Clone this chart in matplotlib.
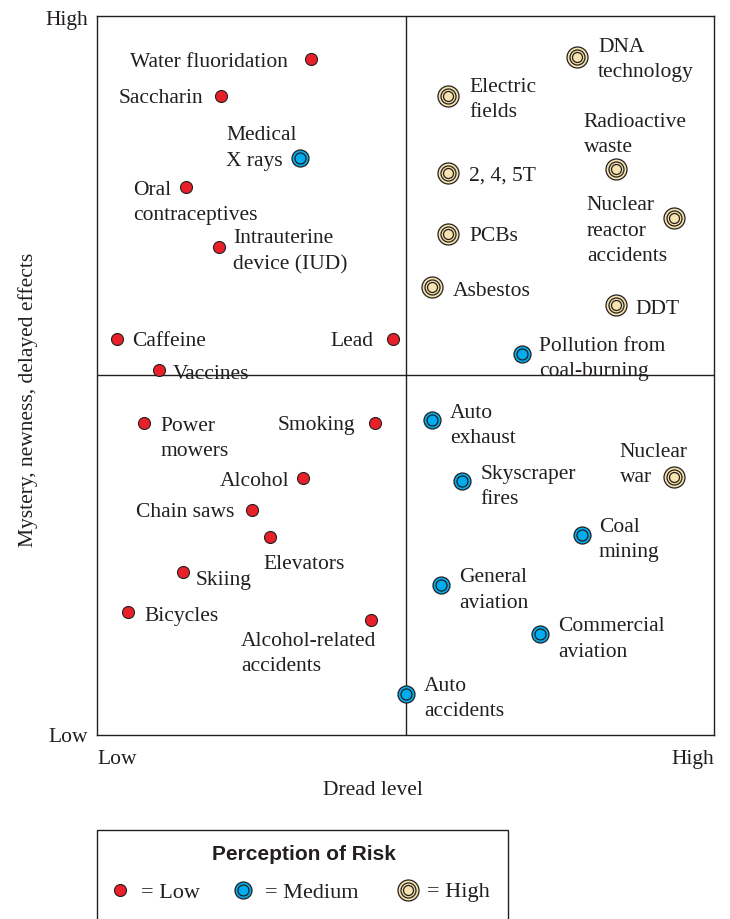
import matplotlib
matplotlib.use("Agg")
import matplotlib.pyplot as plt
from matplotlib.patches import Rectangle

# ---------------- data (dread level 0-10, mystery 0-10) ----------------
low_names = ["Water fluoridation", "Saccharin", "Oral\ncontraceptives",
             "Intrauterine\ndevice (IUD)", "Caffeine", "Vaccines", "Lead",
             "Power\nmowers", "Smoking", "Alcohol", "Chain saws", "Elevators",
             "Skiing", "Bicycles", "Alcohol-related\naccidents"]
low_dread = [3.47, 2.01, 1.44, 1.98, 0.32, 1.00, 4.80, 0.76, 4.51, 3.34,
             2.51, 2.80, 1.39, 0.50, 4.44]
low_mystery = [9.40, 8.89, 7.62, 6.79, 5.51, 5.08, 5.51, 4.34, 4.34, 3.57,
               3.13, 2.75, 2.27, 1.71, 1.60]

med_names = ["Medical\nX rays", "Pollution from\ncoal-burning", "Auto\nexhaust",
             "Skyscraper\nfires", "Coal\nmining", "General\naviation",
             "Commercial\naviation", "Auto\naccidents"]
med_dread = [3.29, 6.89, 5.43, 5.92, 7.86, 5.58, 7.18, 5.01]
med_mystery = [8.03, 5.30, 4.38, 3.53, 2.78, 2.09, 1.40, 0.57]

high_names = ["DNA\ntechnology", "Electric\nfields", "Radioactive\nwaste",
              "2, 4, 5T", "Nuclear\nreactor\naccidents", "PCBs", "Asbestos",
              "DDT", "Nuclear\nwar"]
high_dread = [7.78, 5.69, 8.41, 5.69, 9.35, 5.69, 5.43, 8.41, 9.35]
high_mystery = [9.43, 8.89, 7.87, 7.82, 7.19, 6.97, 6.23, 5.98, 3.59]

axis_ticks = ["Low", "High"]
x_title = "Dread level"
y_title = "Mystery, newness, delayed effects"
legend_title = "Perception of Risk"
legend_labels = ["= Low", "= Medium", "= High"]

# ---------------- label placement (pixel offsets from marker, ha) ----------------
low_offsets = [(-23, 0, "right"), (-18, 0, "right"), (-53, 13, "left"),
               (14, 2, "left"), (15, 0, "left"), (14, 2, "left"),
               (-20, 0, "right"), (17, 13, "left"), (-20, 0, "right"),
               (-14, 0, "right"), (-17, 0, "right"), (-6, 24, "left"),
               (13, 6, "left"), (17, 1, "left"), (-130, 31, "left")]
med_offsets = [(-74, -12, "left"), (17, 2, "left"), (18, 3, "left"),
               (18, 3, "left"), (17, 2, "left"), (18, 3, "left"),
               (18, 2, "left"), (18, 2, "left")]
high_offsets = [(21, 0, "left"), (21, 1, "left"), (-32, -37, "left"),
                (21, 0, "left"), (-87, 10, "left"), (21, 0, "left"),
                (21, 1, "left"), (20, 1, "left"), (-54, -15, "left")]

# ---------------- styles ----------------
DARK = "#231f20"
RED = "#e8202a"
BLUE = "#00aeef"
TAN = "#f7e3ae"
SERIF = ["Liberation Serif", "DejaVu Serif"]
FS = 15.5
W, H = 730, 919
PX = 0.72  # points per pixel at dpi=100
VSHIFT = 3  # px, optical centring of text on markers

plt.rcParams["font.family"] = SERIF
fig = plt.figure(figsize=(W / 100, H / 100), dpi=100)
ax = fig.add_axes([97 / W, 1 - 735 / H, (714 - 97) / W, (735 - 16) / H])
ax.set_xlim(0, 10)
ax.set_ylim(0, 10)
ax.set_xticks([])
ax.set_yticks([])
for s in ax.spines.values():
    s.set_color(DARK)
    s.set_linewidth(1.0)
ax.axvline(5, color=DARK, lw=1.0, zorder=1)
ax.axhline(5, color=DARK, lw=1.0, zorder=1)


def draw_low(a, x, y, **kw):
    a.plot(x, y, "o", ms=12 * PX, mfc=RED, mec=DARK, mew=0.8, ls="none", zorder=3, **kw)


def draw_med(a, x, y, **kw):
    a.plot(x, y, "o", ms=17 * PX, mfc=BLUE, mec=DARK, mew=0.9, ls="none", zorder=3, **kw)
    a.plot(x, y, "o", ms=11 * PX, mfc=BLUE, mec=DARK, mew=0.9, ls="none", zorder=4, **kw)


def draw_high(a, x, y, **kw):
    a.plot(x, y, "o", ms=21 * PX, mfc=TAN, mec=DARK, mew=0.9, ls="none", zorder=3, **kw)
    a.plot(x, y, "o", ms=15 * PX, mfc=TAN, mec=DARK, mew=0.9, ls="none", zorder=4, **kw)
    a.plot(x, y, "o", ms=10 * PX, mfc=TAN, mec=DARK, mew=0.9, ls="none", zorder=5, **kw)


draw_low(ax, low_dread, low_mystery)
draw_med(ax, med_dread, med_mystery)
draw_high(ax, high_dread, high_mystery)


def labels(names, xs, ys, offs):
    for n, x, y, (dx, dy, ha) in zip(names, xs, ys, offs):
        ax.annotate(n, (x, y), xytext=(dx * PX, -(dy + VSHIFT) * PX),
                    textcoords="offset points",
                    ha=ha, va="center", fontsize=FS, color=DARK,
                    multialignment="left", linespacing=1.47, zorder=6)


labels(low_names, low_dread, low_mystery, low_offsets)
labels(med_names, med_dread, med_mystery, med_offsets)
labels(high_names, high_dread, high_mystery, high_offsets)

# axis end labels (baselines)
fig.text(88 / W, 1 - 742 / H, axis_ticks[0], ha="right", va="baseline", fontsize=FS, color=DARK)
fig.text(88 / W, 1 - 25 / H, axis_ticks[1], ha="right", va="baseline", fontsize=FS, color=DARK)
fig.text(97 / W, 1 - 764 / H, axis_ticks[0], ha="left", va="baseline", fontsize=FS, color=DARK)
fig.text(714 / W, 1 - 764 / H, axis_ticks[1], ha="right", va="baseline", fontsize=FS, color=DARK)

fig.text(373 / W, 1 - 795 / H, x_title, ha="center", va="baseline", fontsize=FS, color=DARK)
fig.text(28 / W, 1 - 400 / H, y_title, ha="center", va="center", rotation=90, fontsize=FS, color=DARK)

# legend box
fig.patches.append(Rectangle((97 / W, -0.05), (508 - 97) / W, (1 - 830 / H) + 0.05,
                             transform=fig.transFigure, fill=False, ec=DARK, lw=1.0))
fig.text(304 / W, 1 - 854 / H, legend_title, ha="center", va="center", fontsize=15,
         fontweight="bold", family=["Liberation Sans", "DejaVu Sans"], color=DARK)

lax = fig.add_axes([0, 0, 1, 1], facecolor="none")
lax.set_xlim(0, W)
lax.set_ylim(H, 0)
lax.axis("off")
leg_x = [120, 243, 408]
draw_low(lax, [leg_x[0]], [890])
draw_med(lax, [leg_x[1]], [890])
draw_high(lax, [leg_x[2]], [890])
text_x = [141, 265, 427]
for tx, lab in zip(text_x, legend_labels):
    lax.text(tx, 893, lab, ha="left", va="center", fontsize=FS + 0.5, color=DARK)

fig.savefig("out.png", dpi=100)
